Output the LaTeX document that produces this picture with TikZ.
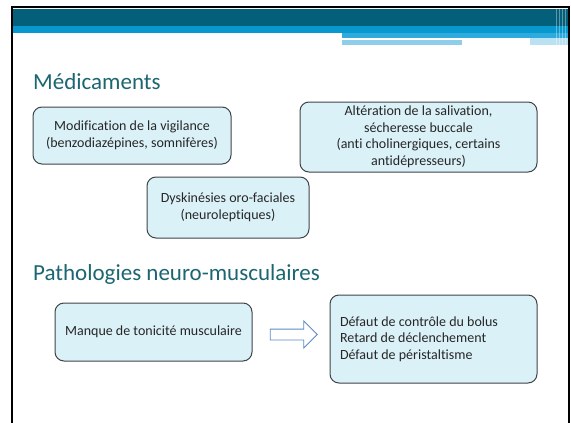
\documentclass[tikz,border=0pt]{standalone}
\usepackage{fontspec}
\setmainfont{Carlito}[Ligatures=NoCommon]
\usetikzlibrary{calc, shapes.arrows}
\definecolor{HeaderDark}{HTML}{04607A}
\definecolor{HeaderBlue}{HTML}{0898D0}
\definecolor{HeaderMid}{HTML}{2EAADC}
\definecolor{HeaderLight}{HTML}{8ECEEA}
\definecolor{TitleTeal}{HTML}{1B6670}
\definecolor{BoxFill}{HTML}{DBF1F8}
\definecolor{BoxLine}{HTML}{3F4447}
\definecolor{ArrowLine}{HTML}{5F8BC4}
\tikzset{
    slide title/.style={anchor=base west, text=TitleTeal, font=\fontsize{23}{27}\selectfont, inner sep=0pt},
    cause box/.style={draw=BoxLine, line width=1pt, fill=BoxFill, rounded corners=9pt,
        text=black!85, font=\fontsize{14}{16.5}\selectfont, align=center, inner sep=2pt},
    list box/.style={cause box, align=flush left, inner xsep=10pt}
}
\begin{document}
\begin{tikzpicture}[x=1pt, y=-1pt]

\useasboundingbox[fill=white] (0,0) rectangle (571,423);

% Bandeau du haut.
\fill[HeaderDark] (12,9) rectangle (568,26);
\fill[HeaderBlue] (12,26) rectangle (568,33);
\fill[HeaderMid] (342,33) rectangle (568,38);
\fill[white] (342,38) rectangle (530,40);
\fill[HeaderLight] (342,40) rectangle (462,45);
\fill[HeaderLight!60] (530,38) rectangle (568,45);
\foreach \x in {556,559,562,565}
    \fill[white, opacity=0.35] (\x,9) rectangle (\x+1.2,45);

% Cadre de la diapositive.
\draw[line width=1.6pt] (12,423) -- (12,7) -- (569,7) -- (569,423);

% Titres.
\node[slide title] (medic) at (33,89) {Médicaments};
\node[slide title] (patho) at (33,280) {Pathologies neuro-musculaires};

% Effets des médicaments.
\node[cause box, minimum width=198pt, minimum height=57pt] (vigil) at (132,135.5)
    {Modification de la vigilance\\(benzodiazépines, somnifères)};
\node[cause box, minimum width=237pt, minimum height=70pt] (saliv) at (418.5,137)
    {Altération de la salivation,\\sécheresse buccale\\(anti cholinergiques, certains\\antidépresseurs)};
\node[cause box, minimum width=162pt, minimum height=61pt] (dysk) at (228,207.5)
    {Dyskinésies oro-faciales\\(neuroleptiques)};

% Pathologies neuro-musculaires.
\node[cause box, minimum width=197pt, minimum height=58pt] (tonus) at (153.5,332)
    {Manque de tonicité musculaire};
\node[list box, minimum width=207pt, minimum height=88pt, text width=187pt] (defaut) at (433.5,339)
    {Défaut de contrôle du bolus\\Retard de déclenchement\\Défaut de péristaltisme};

\node[single arrow, draw=ArrowLine, fill=white, line width=0.8pt,
    minimum height=47pt, minimum width=0pt, single arrow head extend=8pt,
    inner sep=5pt, anchor=center] (fleche) at ($(tonus.east)!0.5!(defaut.west)+(0,-1)$) {};

\end{tikzpicture}
\end{document}
